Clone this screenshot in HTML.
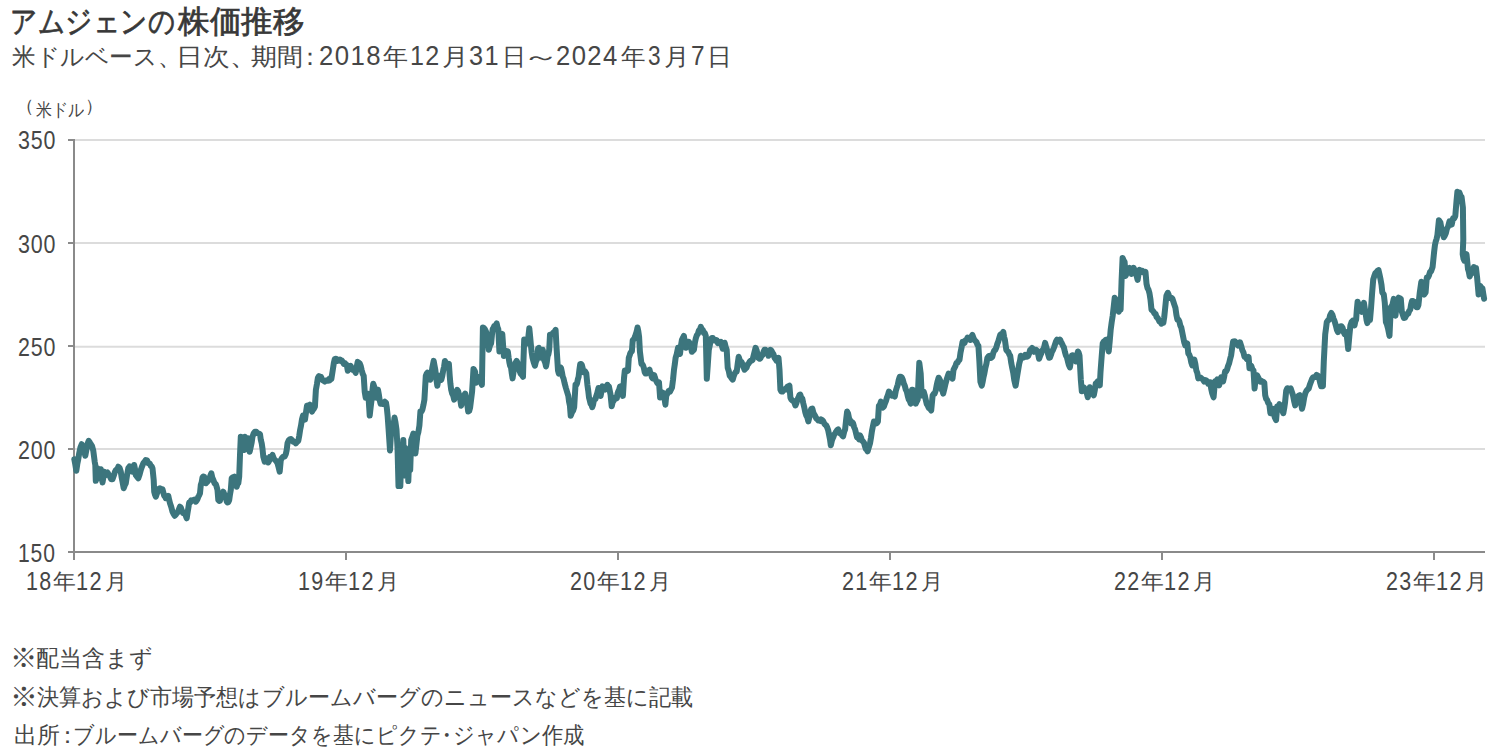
<!DOCTYPE html>
<html lang="ja">
<head>
<meta charset="utf-8">
<style>
html,body{margin:0;padding:0;background:#fff;}
body{width:1500px;height:754px;position:relative;overflow:hidden;font-family:"Liberation Sans",sans-serif;color:#404040;}
.r{position:absolute;white-space:nowrap;line-height:1;transform-origin:0 0;}
svg{position:absolute;left:0;top:0;}
</style>
</head>
<body>
<div class="r" style="left:178.3px;top:5.9px;font-size:31px;color:#383838;-webkit-text-stroke:0.7px #383838;transform:scaleX(1.0187)">株価推移</div>
<div class="r" style="left:10.21px;top:5.9px;font-size:31px;color:#383838;-webkit-text-stroke:0.7px #383838;transform:scaleX(0.862)">アムジェンの</div>
<div class="r" style="left:12.32px;top:45.1px;font-size:24px;color:#464646;transform:scaleX(0.9838)">米ドルベース、</div>
<div class="r" style="left:175.93px;top:45.1px;font-size:24px;color:#464646;transform:scaleX(1.1176)">日次、</div>
<div class="r" style="left:250.6px;top:45.1px;font-size:24px;color:#464646;transform:scaleX(1.0848)">期間</div>
<div class="r" style="left:298.3px;top:45.1px;font-size:24px;color:#464646">：</div>
<div class="r" style="left:319.06px;top:42.1px;font-size:27.5px;letter-spacing:1.5px;color:#464646;transform:scaleX(0.9375)">2018</div>
<div class="r" style="left:382.7px;top:45.1px;font-size:24px;color:#464646;transform:scaleX(1.0435)">年</div>
<div class="r" style="left:410.17px;top:42.1px;font-size:27.5px;letter-spacing:1.5px;color:#464646;transform:scaleX(0.9138)">12</div>
<div class="r" style="left:441.8px;top:45.1px;font-size:24px;color:#464646;transform:scaleX(1.1)">月</div>
<div class="r" style="left:469.08px;top:42.1px;font-size:27.5px;letter-spacing:1.5px;color:#464646;transform:scaleX(0.92)">31</div>
<div class="r" style="left:502.0px;top:45.1px;font-size:24px;color:#464646">日</div>
<div class="r" style="left:522.14px;top:45.1px;font-size:24px;color:#464646;transform:scaleX(1.5714)">～</div>
<div class="r" style="left:556.37px;top:42.1px;font-size:27.5px;letter-spacing:1.5px;color:#464646;transform:scaleX(0.9328)">2024</div>
<div class="r" style="left:621.3px;top:45.1px;font-size:24px;color:#464646;transform:scaleX(1.0217)">年</div>
<div class="r" style="left:648.18px;top:42.1px;font-size:27.5px;letter-spacing:1.5px;color:#464646;transform:scaleX(0.8231)">3</div>
<div class="r" style="left:663.88px;top:45.1px;font-size:24px;color:#464646;transform:scaleX(1.0588)">月</div>
<div class="r" style="left:691.12px;top:42.1px;font-size:27.5px;letter-spacing:1.5px;color:#464646;transform:scaleX(0.8846)">7</div>
<div class="r" style="left:707.38px;top:45.1px;font-size:24px;color:#464646;transform:scaleX(1.0312)">日</div>
<div class="r" style="left:35.71px;top:101.0px;font-size:18px;color:#464646;transform:scaleX(0.8887)">米ドル</div>
<div class="r" style="left:15.5px;top:97.0px;font-size:18px;color:#464646">（</div>
<div class="r" style="left:84.5px;top:97.0px;font-size:18px;color:#464646">）</div>
<div class="r" style="left:17.54px;top:128.1px;font-size:25px;letter-spacing:1px;color:#464646;transform:scaleX(0.8571)">350</div>
<div class="r" style="left:17.54px;top:232.2px;font-size:25px;letter-spacing:1px;color:#464646;transform:scaleX(0.8571)">300</div>
<div class="r" style="left:17.54px;top:335.2px;font-size:25px;letter-spacing:1px;color:#464646;transform:scaleX(0.8571)">250</div>
<div class="r" style="left:17.54px;top:438.2px;font-size:25px;letter-spacing:1px;color:#464646;transform:scaleX(0.8571)">200</div>
<div class="r" style="left:18.11px;top:541.0px;font-size:25px;letter-spacing:1px;color:#464646;transform:scaleX(0.8439)">150</div>
<div class="r" style="left:25.94px;top:569.4px;font-size:25px;letter-spacing:1.5px;color:#464646;transform:scaleX(0.8593)">18</div>
<div class="r" style="left:53.36px;top:572.0px;font-size:21.5px;color:#464646;transform:scaleX(1.04)">年</div>
<div class="r" style="left:76.46px;top:569.4px;font-size:25px;letter-spacing:1.5px;color:#464646;transform:scaleX(0.8692)">12</div>
<div class="r" style="left:104.6px;top:572.0px;font-size:21.5px;color:#464646">月</div>
<div class="r" style="left:297.94px;top:569.4px;font-size:25px;letter-spacing:1.5px;color:#464646;transform:scaleX(0.8593)">19</div>
<div class="r" style="left:325.36px;top:572.0px;font-size:21.5px;color:#464646;transform:scaleX(1.04)">年</div>
<div class="r" style="left:348.46px;top:569.4px;font-size:25px;letter-spacing:1.5px;color:#464646;transform:scaleX(0.8692)">12</div>
<div class="r" style="left:376.6px;top:572.0px;font-size:21.5px;color:#464646">月</div>
<div class="r" style="left:569.94px;top:569.4px;font-size:25px;letter-spacing:1.5px;color:#464646;transform:scaleX(0.8593)">20</div>
<div class="r" style="left:597.36px;top:572.0px;font-size:21.5px;color:#464646;transform:scaleX(1.04)">年</div>
<div class="r" style="left:620.46px;top:569.4px;font-size:25px;letter-spacing:1.5px;color:#464646;transform:scaleX(0.8692)">12</div>
<div class="r" style="left:648.6px;top:572.0px;font-size:21.5px;color:#464646">月</div>
<div class="r" style="left:841.94px;top:569.4px;font-size:25px;letter-spacing:1.5px;color:#464646;transform:scaleX(0.8593)">21</div>
<div class="r" style="left:869.36px;top:572.0px;font-size:21.5px;color:#464646;transform:scaleX(1.04)">年</div>
<div class="r" style="left:892.46px;top:569.4px;font-size:25px;letter-spacing:1.5px;color:#464646;transform:scaleX(0.8692)">12</div>
<div class="r" style="left:920.6px;top:572.0px;font-size:21.5px;color:#464646">月</div>
<div class="r" style="left:1113.94px;top:569.4px;font-size:25px;letter-spacing:1.5px;color:#464646;transform:scaleX(0.8593)">22</div>
<div class="r" style="left:1141.36px;top:572.0px;font-size:21.5px;color:#464646;transform:scaleX(1.04)">年</div>
<div class="r" style="left:1164.46px;top:569.4px;font-size:25px;letter-spacing:1.5px;color:#464646;transform:scaleX(0.8692)">12</div>
<div class="r" style="left:1192.6px;top:572.0px;font-size:21.5px;color:#464646">月</div>
<div class="r" style="left:1385.94px;top:569.4px;font-size:25px;letter-spacing:1.5px;color:#464646;transform:scaleX(0.8593)">23</div>
<div class="r" style="left:1413.36px;top:572.0px;font-size:21.5px;color:#464646;transform:scaleX(1.04)">年</div>
<div class="r" style="left:1436.46px;top:569.4px;font-size:25px;letter-spacing:1.5px;color:#464646;transform:scaleX(0.8692)">12</div>
<div class="r" style="left:1464.6px;top:572.0px;font-size:21.5px;color:#464646">月</div>
<div class="r" style="left:36.2px;top:646.8px;font-size:23px;color:#464646;transform:scaleX(0.9982)">配当含まず</div>
<div class="r" style="left:10.16px;top:644.6px;font-size:27px;color:#464646;transform:scaleX(1.0105)">※</div>
<div class="r" style="left:36.64px;top:686.0px;font-size:23px;color:#464646;transform:scaleX(0.9595)">決算および市場予想はブルームバーグのニュースなどを基に記載</div>
<div class="r" style="left:9.87px;top:683.8px;font-size:27px;color:#464646;transform:scaleX(1.0316)">※</div>
<div class="r" style="left:13.8px;top:724.0px;font-size:23px;color:#464646">出所</div>
<div class="r" style="left:56.0px;top:724.0px;font-size:23px;color:#464646">：</div>
<div class="r" style="left:72.98px;top:724.0px;font-size:23px;color:#464646;transform:scaleX(0.9123)">ブルームバーグのデータを基にピクテ</div>
<div class="r" style="left:435.2px;top:724.0px;font-size:23px;color:#464646">・</div>
<div class="r" style="left:452.82px;top:724.0px;font-size:23px;color:#464646;transform:scaleX(0.9254)">ジャパン作成</div>
<svg width="1500" height="754" viewBox="0 0 1500 754">
<g stroke="#dcdcdc" stroke-width="2">
<line x1="75" y1="140" x2="1485" y2="140"/>
<line x1="75" y1="243" x2="1485" y2="243"/>
<line x1="75" y1="346.8" x2="1485" y2="346.8"/>
<line x1="75" y1="449" x2="1485" y2="449"/>
</g>
<g stroke="#8a8a8a" stroke-width="2">
<line x1="74" y1="139" x2="74" y2="560"/>
<line x1="68" y1="552" x2="1485" y2="552"/>
<line x1="68" y1="140" x2="74" y2="140"/>
<line x1="68" y1="243" x2="74" y2="243"/>
<line x1="68" y1="346" x2="74" y2="346"/>
<line x1="68" y1="449" x2="74" y2="449"/>
<line x1="346" y1="552" x2="346" y2="560"/>
<line x1="618" y1="552" x2="618" y2="560"/>
<line x1="890" y1="552" x2="890" y2="560"/>
<line x1="1162" y1="552" x2="1162" y2="560"/>
<line x1="1434" y1="552" x2="1434" y2="560"/>
</g>
<polyline fill="none" stroke="#3c757d" stroke-width="6" stroke-linejoin="round" stroke-linecap="round" points="74.3,459.2 75.3,464.5 76.3,470.8 77.3,464.0 78.2,459.6 79.2,453.3 80.4,447.6 81.7,444.2 82.5,445.5 83.3,446.7 84.3,450.9 85.3,455.8 86.7,448.3 87.7,443.3 88.7,440.8 89.8,442.5 90.8,444.2 92.1,446.2 93.3,450.8 94.7,461.7 95.3,465.0 95.8,480.8 96.7,474.4 97.5,468.3 98.3,472.1 99.2,478.3 100.0,472.6 100.8,469.2 101.7,475.6 102.5,482.5 103.3,478.0 104.2,471.7 105.0,472.3 105.8,475.0 106.7,473.0 107.5,472.5 108.8,474.9 110.0,476.7 111.2,479.2 112.5,479.2 113.8,475.6 115.0,471.7 116.1,469.7 117.2,469.7 118.3,466.7 119.6,467.9 120.8,471.7 121.7,477.7 122.5,481.7 123.7,488.3 124.8,485.2 125.8,483.3 127.1,474.8 128.3,468.3 129.6,466.4 130.8,466.7 131.7,468.6 132.5,471.7 133.3,469.2 134.2,465.0 135.0,469.1 135.8,475.0 137.1,476.9 138.3,478.3 139.6,474.6 140.8,470.0 142.1,466.3 143.3,463.3 144.6,461.8 145.8,460.0 147.1,460.4 148.3,463.3 149.6,463.4 150.8,465.8 151.7,466.3 152.5,468.3 153.7,480.0 154.2,491.7 155.0,494.7 155.8,496.7 157.1,493.1 158.3,490.0 159.2,488.6 160.0,488.3 161.2,489.0 162.5,489.2 163.3,492.4 164.2,495.8 165.0,496.5 165.8,498.3 167.1,497.9 168.3,495.8 169.2,500.1 170.0,503.3 171.2,506.8 172.5,511.7 173.6,514.0 174.7,515.8 175.7,514.7 176.7,513.3 177.8,512.2 178.9,509.5 180.0,506.7 180.8,507.7 181.7,510.0 182.9,513.0 184.2,513.3 185.4,514.8 186.7,518.3 187.5,513.1 188.3,508.3 189.2,502.5 190.2,502.6 191.2,500.3 192.3,500.6 193.3,500.0 194.6,499.5 195.8,501.7 196.7,500.5 197.5,499.1 198.3,496.7 199.2,495.2 200.0,493.3 200.8,485.0 201.7,482.3 202.5,477.5 203.3,476.6 204.2,476.7 205.0,480.5 205.8,483.3 206.9,482.2 208.1,480.8 209.2,479.2 210.2,476.1 211.3,473.3 212.3,477.6 213.3,480.0 214.6,483.3 215.8,484.2 216.7,487.0 217.5,490.0 218.3,500.0 219.2,500.9 220.0,500.8 220.8,496.7 221.7,495.0 222.5,493.9 223.3,491.7 224.6,495.0 225.8,497.5 226.7,501.4 227.5,502.5 228.3,502.2 229.2,500.0 230.0,494.4 230.8,490.0 231.7,478.3 232.9,477.2 234.2,476.7 235.0,479.6 235.8,481.7 236.7,486.7 237.5,483.7 238.3,483.3 239.2,476.7 240.0,455.0 240.8,436.7 241.7,437.4 242.5,438.3 243.3,443.2 244.2,450.0 245.0,436.7 245.8,439.8 246.7,445.0 247.5,440.4 248.3,438.3 249.7,451.7 250.8,446.7 251.7,442.4 252.5,436.7 253.8,433.1 255.0,431.7 256.2,431.8 257.5,433.3 258.8,433.4 260.0,434.2 260.8,439.8 261.7,443.3 262.5,448.8 263.3,456.7 264.7,461.7 265.7,459.9 266.7,458.3 267.5,460.6 268.3,462.5 269.2,460.7 270.0,456.7 271.2,456.7 272.5,455.0 273.8,458.5 275.0,460.0 276.2,461.0 277.5,463.3 278.6,467.3 279.7,471.7 280.8,460.0 282.1,457.9 283.3,456.7 284.6,456.5 285.8,454.2 286.7,450.0 287.5,443.3 288.8,440.3 290.0,439.2 291.1,439.1 292.2,440.1 293.3,441.7 294.6,441.8 295.8,443.3 297.1,442.0 298.3,440.8 299.2,436.0 300.1,430.0 301.0,425.6 302.0,419.2 303.0,415.6 304.0,417.4 305.0,419.6 306.0,412.3 307.0,405.7 308.0,405.5 309.0,406.3 310.0,404.7 310.9,408.7 311.9,411.6 312.9,410.0 313.9,408.7 314.9,406.7 315.9,389.8 316.9,384.3 317.9,377.8 318.9,376.2 319.9,378.3 320.9,376.8 321.9,378.9 322.9,380.5 323.9,380.8 324.9,381.6 325.9,380.5 326.9,380.5 327.9,380.8 328.8,379.2 329.7,380.2 330.5,378.1 331.4,378.8 332.8,369.9 333.8,363.2 334.8,358.9 335.8,358.8 336.8,359.3 337.8,360.9 338.8,360.4 339.8,359.6 340.8,360.9 341.8,360.5 342.8,361.9 343.8,363.9 344.8,363.1 345.8,364.2 346.8,364.9 347.8,370.8 348.8,367.9 349.8,368.6 350.7,365.9 351.7,368.2 352.7,369.9 353.7,369.9 354.7,371.1 355.7,372.8 356.7,366.9 357.7,361.9 358.7,362.8 359.7,363.5 360.7,365.9 361.7,370.2 362.7,373.9 363.7,375.8 364.7,391.7 365.7,397.7 366.7,395.6 367.7,393.7 368.7,399.7 369.7,415.6 370.6,407.6 371.6,399.7 372.4,390.6 373.2,383.8 374.6,387.8 375.6,391.6 376.6,397.7 378.0,389.8 378.8,394.3 379.6,399.7 380.6,403.7 381.6,402.7 382.6,403.9 383.6,402.7 384.8,401.7 386.0,402.7 386.8,407.8 387.6,415.6 388.6,429.6 390.0,450.4 390.7,438.3 391.5,423.6 392.3,426.6 393.1,429.6 394.5,417.6 395.5,422.6 396.5,429.6 397.5,447.5 398.5,486.1 399.5,462.0 400.3,486.1 401.3,458.0 402.3,475.9 403.3,440.1 404.3,468.0 405.3,448.1 406.3,475.9 407.3,458.0 408.3,481.1 409.3,455.0 410.2,470.0 411.2,440.1 412.3,436.9 413.4,433.5 414.4,442.2 415.4,453.4 416.4,444.6 417.4,435.5 418.4,431.9 419.4,425.6 420.4,411.6 421.4,411.7 422.4,409.7 423.4,405.2 424.4,399.7 425.8,375.8 426.6,373.7 427.4,372.8 428.4,374.8 429.4,376.5 430.3,379.8 431.3,374.6 432.3,367.9 433.7,360.9 434.5,365.5 435.3,369.9 436.3,378.6 437.3,385.8 438.3,380.3 439.3,375.8 440.3,377.0 441.3,379.8 442.3,375.7 443.3,369.9 444.1,366.7 444.9,360.9 446.1,363.9 447.3,364.9 448.1,365.2 448.9,363.9 449.7,375.8 450.4,383.7 451.2,389.8 452.2,393.7 453.2,395.6 454.2,399.7 455.2,396.4 456.2,392.7 457.2,389.8 458.2,391.4 459.2,395.7 460.2,399.4 461.2,405.7 462.2,401.1 463.2,397.7 464.2,395.0 465.2,393.7 466.2,399.2 467.2,403.7 468.2,411.6 469.2,410.9 470.1,407.7 471.1,399.7 472.1,391.7 473.5,368.9 474.3,370.2 475.1,371.8 476.1,382.8 477.1,381.0 478.1,376.8 479.1,378.7 480.1,377.8 481.0,382.6 481.9,384.8 482.9,327.5 483.8,327.9 484.8,329.1 486.0,331.5 487.2,335.5 488.0,341.9 488.8,349.8 489.9,345.7 491.1,343.4 491.9,335.4 492.7,329.1 493.5,327.8 494.3,325.9 495.5,325.8 496.7,323.5 497.5,327.3 498.3,329.1 499.4,351.4 500.7,341.8 501.5,337.8 502.3,333.9 503.1,345.4 503.9,356.1 504.7,355.4 505.5,353.0 506.7,351.0 507.8,351.4 508.6,357.4 509.4,362.5 510.2,366.0 511.0,367.3 511.8,373.6 512.6,378.4 513.4,372.8 514.2,365.7 515.4,363.2 516.6,360.9 517.4,362.4 518.2,365.7 519.4,370.5 520.6,373.6 521.8,374.8 523.0,376.8 523.3,365.7 524.2,339.4 525.2,340.7 526.1,340.2 526.9,343.1 527.7,343.4 528.5,335.6 529.3,328.3 530.1,336.4 530.9,345.0 531.7,352.6 532.5,357.7 533.7,362.3 534.9,365.7 535.9,361.6 537.0,359.3 538.1,348.2 538.9,347.9 539.7,349.8 540.5,352.8 541.3,357.7 542.1,354.9 542.8,349.8 543.6,356.2 544.4,360.9 545.2,362.7 546.0,366.5 546.8,362.2 547.6,356.1 548.4,354.3 549.2,349.8 550.0,334.7 551.2,334.7 552.4,333.9 553.2,332.7 554.0,332.3 554.8,331.2 555.6,329.9 556.4,345.0 557.2,357.7 558.0,370.5 558.8,373.6 559.6,369.4 560.4,367.3 561.1,368.3 561.9,372.1 562.7,376.6 563.5,378.4 564.7,383.6 565.9,388.0 567.1,392.0 568.3,395.9 569.1,401.9 569.9,405.5 570.7,415.8 571.5,413.6 572.3,411.8 573.2,410.5 574.2,407.1 575.5,384.8 576.3,384.9 577.1,383.2 577.9,379.2 578.6,376.8 579.4,369.8 580.2,364.1 581.0,363.9 581.8,364.9 582.6,367.7 583.4,372.1 584.2,371.9 585.0,371.3 586.3,373.6 587.4,384.8 588.2,390.5 589.0,397.5 589.8,400.5 590.6,403.9 591.4,404.4 592.2,407.1 593.0,405.0 593.8,400.7 594.6,399.5 595.4,399.1 596.1,396.6 596.9,394.3 597.7,391.4 598.5,388.0 599.6,393.1 600.6,395.9 601.6,390.9 602.5,386.4 603.7,389.1 604.9,389.6 606.1,387.2 607.3,384.8 608.1,385.7 608.9,386.4 609.7,390.4 610.5,394.3 611.7,406.3 612.7,402.1 613.7,400.7 614.4,398.9 615.2,397.5 616.0,397.0 616.8,398.3 617.6,393.3 618.4,391.1 619.2,389.6 620.0,386.4 620.8,386.3 621.6,388.0 622.9,395.9 624.0,378.4 624.8,370.5 625.6,370.4 626.4,370.5 627.2,371.1 628.0,370.5 628.8,357.7 629.6,355.5 630.4,353.0 631.2,351.7 631.9,351.4 632.7,340.2 633.5,339.5 634.3,338.6 635.1,336.4 635.9,333.9 636.7,331.5 637.5,327.5 638.3,331.2 639.1,337.0 639.9,351.4 640.7,357.9 641.5,364.1 642.3,364.2 643.1,365.7 643.9,368.2 644.7,372.1 645.5,373.6 646.3,373.6 647.1,372.1 647.9,370.5 648.7,370.2 649.5,369.7 650.2,372.4 651.0,373.6 651.8,377.2 652.6,378.4 653.4,376.7 654.2,375.2 655.0,377.9 655.8,380.0 656.6,381.6 657.4,383.2 658.2,382.8 659.0,382.4 660.1,397.5 661.4,395.9 662.2,394.9 663.0,392.7 663.8,395.8 664.6,399.1 665.4,404.7 666.2,395.9 667.4,393.6 668.5,391.1 670.0,391.6 671.0,389.5 672.0,387.6 673.0,379.9 674.0,369.7 674.8,364.3 675.6,357.8 676.8,353.8 678.0,347.8 679.0,352.0 680.0,353.8 680.9,346.1 681.9,339.9 682.9,338.0 683.9,335.9 684.9,343.1 685.9,347.8 686.9,345.8 687.9,341.8 688.9,341.8 689.9,343.8 690.9,346.8 691.9,351.8 692.9,350.6 693.9,349.8 694.9,342.6 695.9,337.9 696.9,335.1 697.9,333.9 698.9,330.4 699.9,329.7 700.8,326.9 701.8,329.2 702.8,329.9 703.8,333.0 704.8,332.9 705.8,335.9 706.8,378.7 707.8,364.8 708.8,349.8 709.8,345.3 710.8,339.9 711.8,337.9 712.8,337.9 713.8,339.6 714.8,340.5 715.8,339.9 716.8,340.1 717.8,343.1 718.8,342.8 719.8,342.1 720.7,341.8 721.7,345.3 722.7,348.8 723.7,347.2 724.7,342.8 725.7,347.2 726.7,349.8 727.7,367.7 728.7,370.7 729.7,375.7 730.7,376.8 731.7,378.4 732.7,379.7 733.7,376.2 734.7,373.7 735.7,371.8 736.7,371.7 737.7,363.7 738.7,356.8 739.7,359.9 740.6,361.7 741.6,361.9 742.6,364.7 743.6,367.4 744.6,369.7 745.6,368.5 746.6,367.7 747.6,364.4 748.6,363.7 749.6,361.8 750.6,360.7 751.6,360.6 752.6,359.8 753.6,355.8 754.6,351.8 755.6,347.8 756.6,350.1 757.6,354.8 758.6,358.1 759.6,358.8 760.5,358.1 761.5,355.8 762.5,355.1 763.5,351.8 764.5,349.7 765.5,349.8 766.5,351.1 767.5,352.5 768.5,355.8 769.5,353.6 770.5,349.8 771.5,350.7 772.5,352.8 773.5,354.2 774.5,357.8 775.5,359.0 776.5,360.7 777.5,360.4 778.5,357.8 779.5,369.7 780.4,389.6 781.4,391.5 782.4,391.6 783.4,390.3 784.4,389.3 785.4,389.6 786.4,389.3 787.4,386.6 788.4,386.3 789.4,385.6 790.4,397.6 791.4,399.6 792.4,400.5 793.4,401.1 794.4,402.6 795.4,405.5 796.4,403.1 797.4,399.6 798.4,397.7 799.4,395.0 800.3,394.6 801.3,397.8 802.3,398.6 803.3,403.4 804.3,407.5 805.3,412.3 806.3,415.5 807.3,417.3 808.3,421.4 809.3,417.5 810.3,411.5 811.3,408.8 812.3,408.5 813.3,412.5 814.3,414.5 815.3,416.3 816.3,418.5 817.3,419.0 818.3,420.4 819.3,420.3 820.2,421.0 821.2,419.5 822.2,420.1 823.2,421.1 824.2,423.4 825.2,424.8 826.2,425.4 827.2,427.4 828.2,430.3 829.2,435.4 830.0,439.4 830.8,445.3 832.0,440.1 833.2,437.4 834.2,434.5 835.2,433.4 836.2,431.5 837.2,430.2 838.2,429.4 839.2,432.1 840.1,433.4 841.1,433.8 842.1,435.4 843.1,436.4 844.1,432.0 845.1,429.4 846.1,420.0 847.1,411.5 848.1,413.6 849.1,418.5 850.1,420.2 851.1,423.4 852.1,422.1 853.1,423.4 854.1,427.1 855.1,429.4 856.1,433.5 857.1,437.4 858.1,437.5 859.1,439.4 860.0,435.4 861.0,437.3 862.0,440.6 863.0,441.4 864.0,442.8 865.0,446.4 865.8,448.9 866.7,449.5 867.6,451.3 868.8,447.3 870.0,443.4 870.9,438.3 871.9,431.4 872.9,426.2 873.9,421.5 874.9,422.5 875.9,423.5 876.9,423.0 877.9,421.5 878.9,405.6 879.9,404.9 880.9,401.6 881.9,404.1 882.9,407.6 883.9,406.5 884.9,403.6 885.9,401.2 886.9,397.6 887.9,395.0 888.9,391.6 889.9,392.7 890.8,393.9 891.8,395.6 892.8,394.7 893.8,395.2 894.8,396.6 895.8,390.9 896.8,387.7 897.8,384.7 898.8,379.7 899.8,376.7 900.8,376.8 901.8,377.5 902.8,379.7 903.8,383.6 904.8,385.7 905.8,389.7 906.8,391.6 907.8,396.1 908.8,399.6 909.8,401.0 910.7,403.6 912.1,389.7 912.9,389.9 913.7,391.6 914.7,397.0 915.7,403.6 916.7,401.5 917.7,399.6 918.5,380.2 919.3,362.8 920.7,373.7 921.7,395.6 922.7,393.5 923.7,391.6 924.7,395.0 925.7,399.6 926.7,403.9 927.7,405.6 928.7,407.9 929.7,407.6 930.4,409.2 931.2,410.5 932.6,395.6 933.6,393.9 934.6,393.6 935.6,391.0 936.6,385.7 937.6,381.2 938.6,377.7 939.6,379.3 940.6,381.7 941.6,389.7 942.4,390.2 943.2,393.6 944.6,387.7 945.6,383.4 946.6,379.7 947.6,376.6 948.6,373.7 949.6,374.2 950.5,374.7 951.5,375.9 952.5,378.7 953.5,369.8 954.5,367.8 955.5,365.8 956.5,362.9 957.5,362.8 958.5,360.6 959.5,359.8 960.5,352.7 961.5,347.9 962.5,341.9 963.5,342.1 964.5,342.9 965.5,340.1 966.5,339.9 967.5,337.6 968.5,337.9 969.5,338.4 970.4,339.9 971.4,336.7 972.4,334.9 973.4,337.7 974.4,339.9 975.4,341.0 976.4,341.9 977.4,344.6 978.4,345.9 979.4,361.8 980.4,381.7 981.8,385.7 982.6,382.1 983.4,377.7 984.4,373.3 985.4,367.8 986.4,363.8 987.4,357.8 988.4,356.5 989.4,355.8 990.3,356.3 991.3,357.8 992.3,356.7 993.3,352.8 994.3,350.4 995.3,349.9 996.3,347.5 997.3,343.9 998.3,341.3 999.3,337.9 1000.3,334.6 1001.3,333.9 1002.3,333.9 1003.3,331.9 1004.1,337.0 1004.9,339.9 1006.3,349.9 1007.3,351.2 1008.3,351.8 1009.3,354.5 1010.2,355.8 1011.2,362.7 1012.2,367.8 1013.2,372.7 1014.2,379.7 1015.6,385.7 1016.4,380.8 1017.2,375.7 1018.2,369.8 1019.2,363.8 1020.0,360.7 1020.8,355.8 1022.0,357.7 1023.2,357.8 1024.2,357.2 1025.2,354.8 1026.2,355.4 1027.2,356.6 1028.2,355.8 1029.2,353.3 1030.1,349.9 1031.1,349.4 1032.1,347.9 1033.1,349.1 1034.1,351.8 1035.1,349.5 1036.1,349.9 1037.1,350.8 1038.1,353.8 1039.1,358.8 1040.1,355.9 1041.1,353.8 1042.1,350.7 1043.1,349.9 1044.1,347.3 1045.1,342.9 1046.1,346.5 1047.1,349.9 1048.1,354.2 1049.1,357.8 1050.0,357.5 1051.0,354.8 1052.0,351.5 1053.0,350.0 1054.0,347.5 1055.0,344.5 1056.0,341.5 1057.0,339.7 1058.0,341.4 1059.0,340.7 1060.0,339.6 1060.9,341.6 1061.9,343.5 1062.9,345.6 1063.9,347.5 1064.9,351.9 1065.9,355.5 1066.9,357.2 1067.9,361.4 1068.9,365.1 1069.9,367.4 1070.9,360.7 1071.9,355.5 1072.9,355.3 1073.9,357.5 1074.9,358.8 1075.9,361.4 1076.9,357.1 1077.9,351.5 1078.7,352.7 1079.5,355.5 1080.8,379.4 1081.8,391.3 1082.8,390.0 1083.8,387.3 1084.8,389.6 1085.8,389.3 1086.8,393.3 1087.8,397.3 1088.8,392.0 1089.8,387.3 1090.8,389.2 1091.8,391.3 1092.8,393.8 1093.8,395.3 1094.8,390.1 1095.8,383.3 1096.8,382.7 1097.8,381.3 1098.8,383.7 1099.8,385.3 1100.5,372.2 1101.3,361.4 1102.7,343.5 1103.7,341.6 1104.7,341.5 1105.7,339.9 1106.7,339.6 1107.7,346.2 1108.7,351.5 1109.7,341.5 1110.7,329.6 1111.7,322.1 1112.7,315.7 1113.7,306.9 1114.7,297.8 1115.7,299.4 1116.7,303.7 1117.7,306.5 1118.7,311.7 1119.7,310.0 1120.6,309.7 1121.6,279.9 1122.6,258.0 1123.6,260.4 1124.6,261.9 1125.6,275.9 1126.6,273.4 1127.6,269.9 1128.6,269.4 1129.6,267.9 1130.6,270.3 1131.6,273.9 1132.6,270.9 1133.6,267.9 1134.6,269.8 1135.6,271.9 1136.6,275.8 1137.6,279.9 1138.6,273.8 1139.6,269.9 1140.5,272.0 1141.5,271.9 1142.5,271.0 1143.5,271.9 1144.5,273.2 1145.5,271.9 1146.5,283.8 1147.5,288.0 1148.5,289.8 1149.5,293.4 1150.5,299.8 1151.5,309.7 1152.5,310.6 1153.5,311.7 1154.5,313.6 1155.5,313.7 1156.5,317.0 1157.5,317.7 1158.5,319.5 1159.5,321.6 1160.4,322.0 1161.4,323.6 1162.4,322.3 1163.4,322.6 1164.2,317.4 1165.0,309.7 1166.4,295.8 1167.8,292.8 1168.6,294.5 1169.4,297.8 1170.4,298.0 1171.4,297.8 1172.4,298.7 1173.4,301.7 1174.4,304.8 1175.4,307.7 1176.4,314.9 1177.4,319.7 1178.4,319.6 1179.4,321.6 1180.3,325.5 1181.3,327.6 1182.3,332.6 1183.3,337.6 1184.3,342.6 1185.3,345.5 1186.3,345.1 1187.3,343.5 1188.3,353.5 1189.3,354.7 1190.3,357.5 1191.3,362.6 1192.3,365.4 1193.3,362.4 1194.3,359.5 1195.3,363.6 1196.3,370.4 1197.3,373.0 1198.3,378.4 1199.3,377.8 1200.2,377.4 1201.2,378.0 1202.2,379.0 1203.2,379.8 1204.2,381.7 1205.2,380.0 1206.2,380.3 1207.2,381.6 1208.2,383.7 1209.2,382.5 1210.2,382.3 1211.2,388.8 1212.2,393.3 1213.6,397.3 1214.4,387.9 1215.2,381.3 1216.2,381.1 1217.2,379.4 1218.2,383.3 1219.2,385.3 1220.1,380.3 1221.1,377.4 1222.1,380.5 1223.1,381.3 1224.1,377.0 1225.1,371.4 1226.1,371.5 1227.1,369.4 1228.1,365.8 1229.1,363.4 1230.1,359.1 1231.1,355.5 1232.1,348.2 1233.1,341.5 1234.1,342.9 1235.1,341.5 1236.1,343.1 1237.1,343.8 1238.1,345.5 1239.0,343.7 1240.0,342.3 1241.1,345.6 1242.3,350.1 1243.4,352.3 1244.5,356.9 1245.6,356.9 1246.8,359.2 1247.7,359.0 1248.6,356.9 1249.5,368.2 1250.4,366.4 1251.3,365.9 1252.4,369.4 1253.5,370.4 1254.6,388.5 1255.4,381.0 1256.2,374.9 1257.1,375.4 1258.0,377.2 1259.2,379.5 1260.3,381.7 1261.4,380.8 1262.5,381.7 1263.4,381.9 1264.3,382.8 1265.2,395.2 1266.1,398.7 1267.0,399.7 1268.2,403.0 1269.3,404.2 1270.4,413.2 1271.5,411.9 1272.7,408.7 1273.8,413.6 1274.9,417.7 1276.1,420.0 1277.2,406.5 1278.3,406.5 1279.4,404.2 1280.6,407.7 1281.7,408.7 1282.5,411.1 1283.3,413.2 1284.2,408.2 1285.1,402.0 1286.2,390.7 1287.3,388.3 1288.5,388.5 1289.6,389.1 1290.7,388.5 1291.8,391.7 1293.0,395.2 1294.1,401.0 1295.2,405.4 1296.3,401.8 1297.5,397.5 1298.6,395.7 1299.7,395.2 1300.8,400.7 1302.0,408.7 1303.1,404.3 1304.2,397.5 1305.4,393.0 1306.5,390.7 1307.6,389.5 1308.7,388.5 1309.9,384.6 1311.0,381.7 1312.1,378.9 1313.2,377.2 1314.4,377.1 1315.5,377.0 1316.6,374.9 1317.7,375.4 1318.9,377.2 1320.0,382.1 1321.1,386.2 1322.0,385.6 1322.9,386.2 1323.8,361.4 1325.2,334.4 1326.0,328.3 1326.8,322.0 1327.9,320.5 1329.0,319.7 1330.1,315.4 1331.3,313.0 1332.4,314.8 1333.5,318.6 1334.6,321.2 1335.8,325.4 1336.9,329.9 1338.0,332.1 1339.2,329.3 1340.3,326.5 1341.4,326.3 1342.5,327.6 1343.7,332.1 1344.8,334.4 1345.6,334.6 1346.4,332.1 1347.3,340.4 1348.2,349.0 1349.3,336.6 1350.4,325.4 1351.5,322.1 1352.7,320.8 1353.6,322.2 1354.5,325.4 1355.3,321.4 1356.1,319.7 1356.8,310.3 1357.6,301.7 1358.5,304.5 1359.4,309.6 1360.6,310.0 1361.7,311.8 1362.8,306.6 1363.9,302.8 1364.8,308.6 1365.7,314.1 1366.5,319.7 1367.3,323.1 1368.5,320.4 1369.6,316.3 1370.0,320.0 1371.1,307.3 1372.1,293.2 1373.2,279.7 1374.2,276.3 1375.3,273.3 1376.4,272.3 1377.4,270.9 1378.5,270.1 1379.5,274.5 1380.6,279.7 1381.5,284.8 1382.3,292.4 1383.8,294.5 1384.8,303.0 1385.9,322.1 1387.0,324.7 1388.0,328.5 1389.5,335.9 1390.8,307.3 1392.3,305.1 1393.8,298.8 1394.6,308.6 1395.5,315.7 1396.3,307.3 1397.1,300.9 1398.6,297.7 1399.7,298.2 1400.8,298.8 1401.8,311.5 1402.9,315.0 1403.9,317.9 1405.0,317.8 1406.1,315.7 1407.1,313.9 1408.2,313.6 1409.2,310.9 1410.3,309.4 1411.1,304.4 1412.0,300.9 1412.8,301.0 1413.7,301.4 1414.5,302.0 1415.6,305.9 1416.7,307.3 1417.5,307.2 1418.4,305.1 1419.8,292.4 1421.3,281.8 1422.6,292.4 1424.1,294.5 1425.6,292.4 1426.8,277.6 1427.9,277.5 1429.0,275.4 1430.0,272.0 1431.1,271.2 1432.6,267.0 1434.1,252.1 1434.9,245.5 1435.7,241.5 1436.6,238.9 1437.4,235.1 1438.9,220.3 1440.4,222.4 1441.3,227.8 1442.1,230.9 1443.0,234.0 1443.8,237.3 1444.9,235.4 1445.9,233.0 1447.0,228.4 1448.0,226.7 1449.5,221.4 1450.6,222.6 1451.7,224.5 1453.1,218.2 1454.2,218.3 1455.3,216.1 1456.5,201.2 1457.4,191.7 1458.4,193.1 1459.5,192.7 1460.6,195.8 1461.6,197.0 1462.9,207.6 1463.3,239.4 1462.7,254.2 1463.5,258.7 1464.4,260.6 1465.4,256.7 1466.5,254.2 1468.0,269.1 1468.8,271.7 1469.7,276.5 1470.7,273.9 1471.8,273.3 1472.9,270.2 1473.9,267.0 1475.0,268.0 1476.0,268.0 1477.1,277.6 1478.6,294.5 1479.4,291.5 1480.3,286.0 1481.3,287.7 1482.4,288.2 1483.3,293.9 1484.1,298.8"/>
</svg>
</body>
</html>
